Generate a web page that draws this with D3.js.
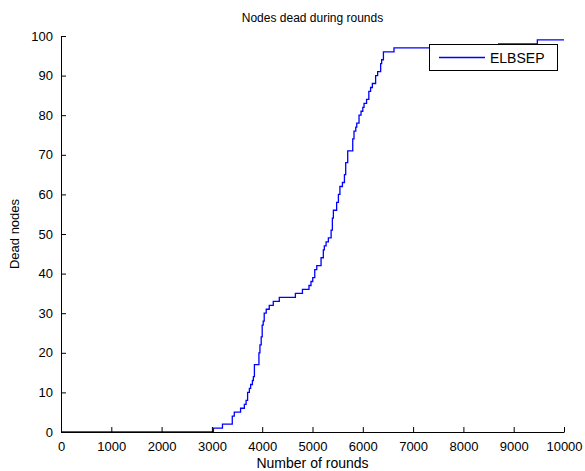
<!DOCTYPE html>
<html>
<head>
<meta charset="utf-8">
<script src="https://cdn.jsdelivr.net/npm/d3@7"></script>
<style>
  html, body { margin: 0; padding: 0; background: #fff; }
  svg { display: block; font-family: "Liberation Sans", Arial, sans-serif; }
</style>
</head>
<body>
<svg id="chart" width="585" height="471"></svg>
<script>
// Round at which each new dead-node count is reached (step data)
const rounds = [0, 3030, 3210, 3405, 3445, 3570, 3645, 3680, 3710, 3745, 3770, 3805, 3825, 3845,
  3935, 3955, 3980, 4000, 4020, 4040, 4080, 4140, 4220, 4340, 4660, 4800, 4930, 4970, 5005,
  5045, 5085, 5170, 5215, 5235, 5270, 5315, 5370, 5395, 5415, 5480, 5515, 5545, 5595, 5635,
  5660, 5700, 5800, 5825, 5860, 5880, 5925, 5965, 6000, 6025, 6075, 6120, 6155, 6190, 6255,
  6295, 6355, 6375, 6410, 6620, 8700, 9470, 10000];
const deadNodes = [0, 1, 2, 4, 5, 6, 7, 8, 10, 11, 12, 13, 14, 17,
  20, 22, 24, 27, 28, 30, 31, 32, 33, 34, 35, 36, 37, 38, 39,
  41, 42, 44, 46, 47, 48, 49, 51, 54, 56, 58, 60, 62, 63, 65,
  68, 71, 74, 76, 77, 78, 80, 81, 82, 83, 84, 86, 87, 88, 90,
  91, 93, 94, 96, 97, 98, 99, 99];
const xTicks = [0, 1000, 2000, 3000, 4000, 5000, 6000, 7000, 8000, 9000, 10000];
const yTicks = [0, 10, 20, 30, 40, 50, 60, 70, 80, 90, 100];
const seriesName = "ELBSEP";

const svg = d3.select("#chart");
const margin = { left: 61, right: 21, top: 36, bottom: 39 };
const W = 585, H = 471;

const x = d3.scaleLinear().domain([0, 10000]).range([margin.left, W - margin.right]);
const y = d3.scaleLinear().domain([0, 100]).range([H - margin.bottom, margin.top]);

const data = rounds.map((r, i) => ({ r, d: deadNodes[i] }));

// Curve
const line = d3.line().x(p => x(p.r)).y(p => y(p.d)).curve(d3.curveStepAfter);
svg.append("path")
  .datum(data)
  .attr("d", line)
  .attr("fill", "none")
  .attr("stroke", "#0000ff")
  .attr("stroke-width", 1.3);

// Axes with inward ticks
const xAxis = d3.axisBottom(x).tickValues(xTicks).tickFormat(d3.format("d"))
  .tickSizeInner(-5).tickSizeOuter(0).tickPadding(10);
const yAxis = d3.axisLeft(y).tickValues(yTicks).tickFormat(d3.format("d"))
  .tickSizeInner(-5).tickSizeOuter(0).tickPadding(8);

const gx = svg.append("g").attr("transform", `translate(0,${y(0)})`).call(xAxis);
const gy = svg.append("g").attr("transform", `translate(${x(0)},0)`).call(yAxis);
[gx, gy].forEach(g => {
  g.selectAll("path.domain").attr("stroke", "#000").attr("stroke-width", 1);
  g.selectAll(".tick line").attr("stroke", "#000");
  g.selectAll(".tick text").attr("fill", "#000").attr("font-size", 13)
    .attr("font-family", "Liberation Sans, Arial, sans-serif");
});

// Title and axis labels
svg.append("text").attr("x", (x(0) + x(10000)) / 2).attr("y", 22)
  .attr("text-anchor", "middle").attr("font-size", 12).text("Nodes dead during rounds");
svg.append("text").attr("x", (x(0) + x(10000)) / 2).attr("y", 468)
  .attr("text-anchor", "middle").attr("font-size", 14).text("Number of rounds");
svg.append("text").attr("transform", `translate(19,${(y(0) + y(100)) / 2}) rotate(-90)`)
  .attr("text-anchor", "middle").attr("font-size", 13).text("Dead nodes");

// Legend
const lg = svg.append("g");
lg.append("rect").attr("x", 429.5).attr("y", 44.5).attr("width", 128).attr("height", 26)
  .attr("fill", "#fff").attr("stroke", "#000").attr("stroke-width", 1);
lg.append("line").attr("x1", 439).attr("x2", 485).attr("y1", 57.5).attr("y2", 57.5)
  .attr("stroke", "#0000ff").attr("stroke-width", 1.3);
lg.append("text").attr("x", 490).attr("y", 62.5).attr("font-size", 14).text(seriesName);
</script>
</body>
</html>
